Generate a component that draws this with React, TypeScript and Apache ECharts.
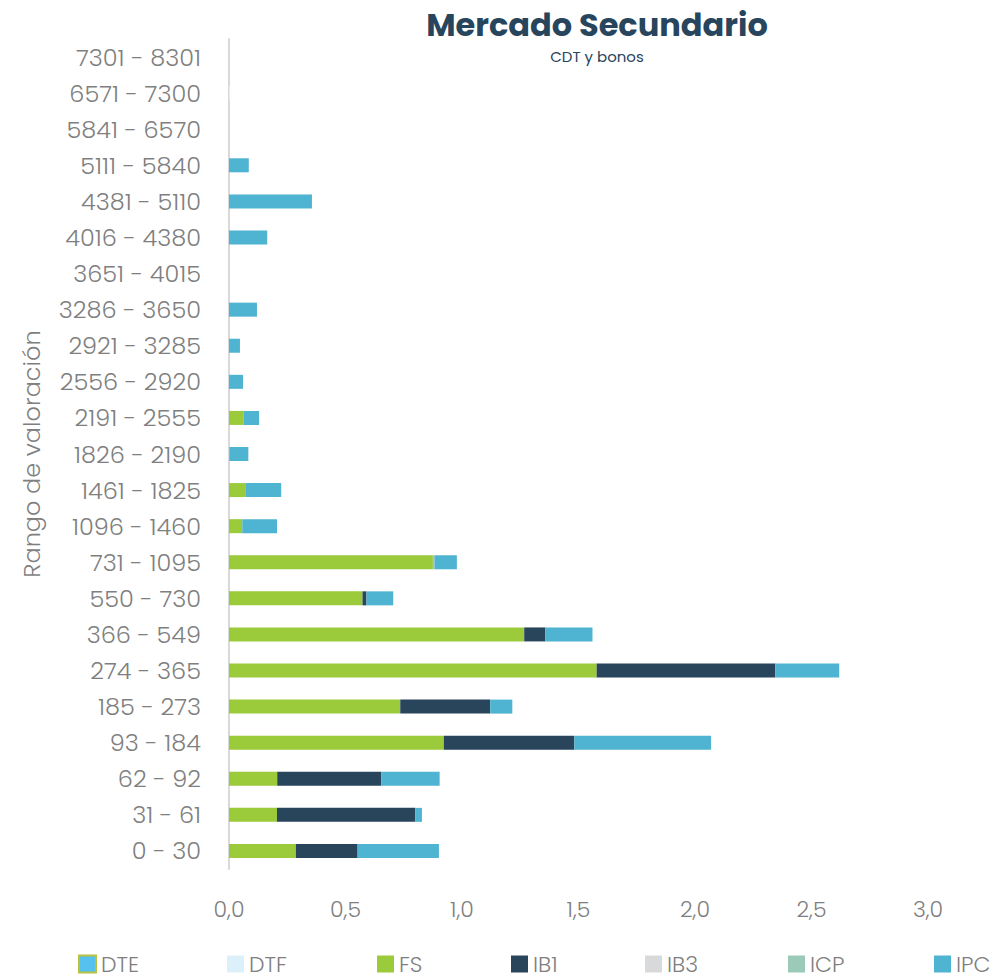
import React, { useEffect, useRef } from "react";
import * as echarts from "echarts";

const categories = [
  "0 - 30", "31 - 61", "62 - 92", "93 - 184", "185 - 273", "274 - 365",
  "366 - 549", "550 - 730", "731 - 1095", "1096 - 1460", "1461 - 1825",
  "1826 - 2190", "2191 - 2555", "2556 - 2920", "2921 - 3285", "3286 - 3650",
  "3651 - 4015", "4016 - 4380", "4381 - 5110", "5111 - 5840", "5841 - 6570",
  "6571 - 7300", "7301 - 8301",
];

const dteValues = [0, 0, 0, 0, 0, 0, 0, 0, 0, 0, 0, 0, 0, 0, 0, 0, 0, 0, 0, 0, 0, 0, 0];
const dtfValues = [0, 0, 0, 0, 0, 0, 0, 0, 0, 0, 0, 0, 0, 0, 0, 0, 0, 0, 0, 0, 0, 0.005, 0];
const fsValues = [0.287, 0.206, 0.207, 0.922, 0.735, 1.578, 1.267, 0.573, 0.875, 0.057, 0.07, 0.004, 0.062, 0, 0, 0, 0, 0, 0, 0, 0, 0, 0];
const ib1Values = [0.265, 0.593, 0.447, 0.56, 0.386, 0.767, 0.091, 0.017, 0, 0, 0, 0, 0, 0, 0, 0, 0, 0, 0, 0, 0, 0, 0];
const ib3Values = [0, 0, 0, 0, 0, 0, 0, 0, 0, 0, 0, 0, 0, 0, 0, 0, 0, 0, 0, 0, 0, 0, 0];
const icpValues = [0, 0, 0, 0, 0, 0, 0, 0, 0.007, 0, 0, 0, 0, 0, 0, 0, 0, 0, 0, 0, 0, 0, 0];
const ipcValues = [0.349, 0.029, 0.25, 0.587, 0.095, 0.274, 0.202, 0.115, 0.096, 0.149, 0.154, 0.079, 0.067, 0.06, 0.047, 0.12, 0, 0.164, 0.356, 0.085, 0, 0, 0];

const xTicks = { min: 0, max: 3, interval: 0.5 };

const seriesDefs = [
  { name: "DTE", data: dteValues, color: "#56c0ee", border: "#b9c23e" },
  { name: "DTF", data: dtfValues, color: "#dcf0fa", border: null },
  { name: "FS", data: fsValues, color: "#9bca3a", border: null },
  { name: "IB1", data: ib1Values, color: "#28455c", border: null },
  { name: "IB3", data: ib3Values, color: "#d8d9db", border: null },
  { name: "ICP", data: icpValues, color: "#9ccab9", border: null },
  { name: "IPC", data: ipcValues, color: "#4fb3d2", border: null },
];

const legendLefts = [78, 227, 377, 511, 645, 788, 934];

const FONT = "Poppins, 'Open Sans', sans-serif";

export default function App() {
  const ref = useRef<HTMLDivElement>(null);
  useEffect(() => {
    if (!ref.current) return;
    const chart = echarts.init(ref.current, null, { renderer: "svg" });
    chart.setOption({
      animation: false,
      backgroundColor: "#ffffff",
      textStyle: { fontFamily: FONT },
      title: [
        {
          text: "Mercado Secundario",
          left: 592,
          top: 3,
          textAlign: "center",
          textStyle: { fontFamily: FONT, fontSize: 32, fontWeight: "bold", color: "#27455c" },
        },
        {
          text: "CDT y bonos",
          left: 592,
          top: 44,
          textAlign: "center",
          textStyle: { fontFamily: FONT, fontSize: 15, fontWeight: "normal", color: "#27455c" },
        },
      ],
      legend: seriesDefs.map((s, i) => ({
        data: [
          s.border
            ? { name: s.name, itemStyle: { borderColor: s.border, borderWidth: 2 } }
            : { name: s.name },
        ],
        left: legendLefts[i],
        top: 953,
        padding: 0,
        itemWidth: 17,
        itemHeight: 17,
        itemGap: 4,
        icon: "rect",
        selectedMode: false,
        textStyle: { fontFamily: FONT, fontSize: 22, fontWeight: 300, color: "#7f7f7f" },
      })),
      grid: { left: 229, right: 69, top: 39, bottom: 109, containLabel: false },
      xAxis: {
        type: "value",
        min: xTicks.min,
        max: xTicks.max,
        interval: xTicks.interval,
        axisLine: { show: false },
        axisTick: { show: false },
        splitLine: { show: false },
        axisLabel: {
          margin: 29,
          fontFamily: FONT,
          fontSize: 22,
          fontWeight: 300,
          color: "#7f7f7f",
          formatter: (v: number) => v.toFixed(1).replace(".", ","),
        },
      },
      yAxis: {
        type: "category",
        data: categories,
        name: "Rango de valoración",
        nameLocation: "middle",
        nameGap: 186,
        nameTextStyle: { fontFamily: FONT, fontSize: 24, fontWeight: 300, color: "#7f7f7f" },
        axisLine: { show: true, lineStyle: { color: "#d9d9d9", width: 2 } },
        axisTick: { show: false },
        splitLine: { show: false },
        axisLabel: { margin: 28, fontFamily: FONT, fontSize: 24, fontWeight: 300, color: "#7f7f7f" },
      },
      series: seriesDefs.map((s) => ({
        name: s.name,
        type: "bar",
        stack: "total",
        barWidth: 14,
        data: s.data,
        itemStyle: s.border
          ? { color: s.color, borderColor: s.border, borderWidth: 0 }
          : { color: s.color },
      })),
    });
    return () => chart.dispose();
  }, []);
  return (
    <div
      ref={ref}
      style={{ position: "fixed", left: 0, top: 0, width: 997, height: 978 }}
    />
  );
}
